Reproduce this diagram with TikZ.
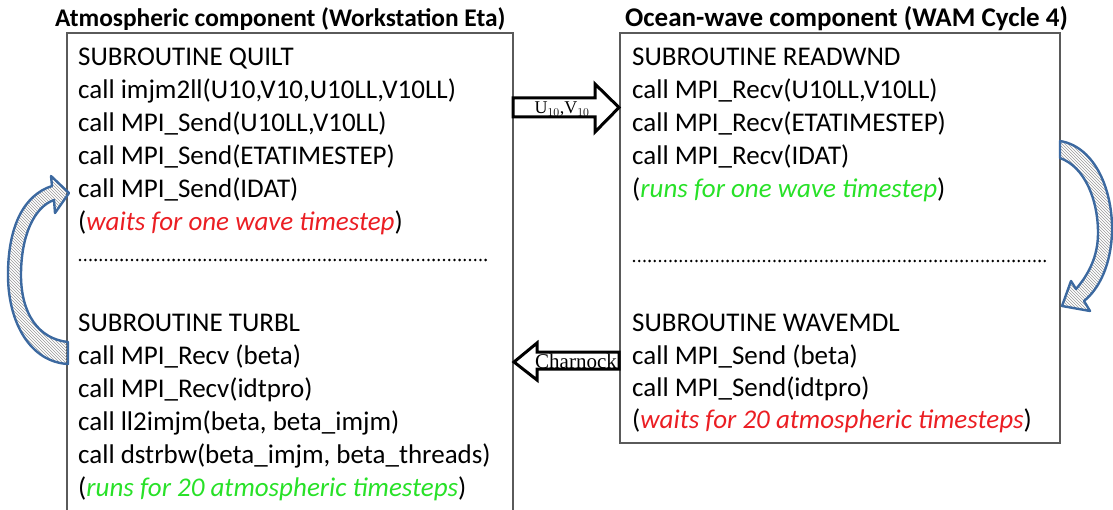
\documentclass[tikz,border=0pt]{standalone}
\usepackage{fontspec}
\setmainfont{Carlito}
\newfontfamily\tms{Liberation Serif}
\usetikzlibrary{patterns}
\definecolor{boxgray}{RGB}{90,90,90}
\definecolor{txtred}{RGB}{235,30,35}
\definecolor{txtgreen}{RGB}{40,225,40}
\definecolor{arcblue}{RGB}{60,105,160}
\tikzset{
  line/.style={anchor=base west, inner sep=0pt, font=\fontsize{27}{27}\selectfont},
  ttl/.style={anchor=base west, inner sep=0pt, font=\fontsize{25.4}{26}\selectfont\bfseries},
  frame/.style={draw=boxgray, line width=1.3pt},
  blockarrow/.style={draw=black, line width=3pt, fill=white, line join=miter},
  curvearrow/.style={draw=arcblue, line width=2.4pt, pattern=north west lines, pattern color=gray!80, line join=round},
  dots/.style={line width=2.8pt, dash pattern=on 0pt off 5.2pt, line cap=round},
}
\begin{document}
\begin{tikzpicture}[x=1pt,y=-1pt]
\useasboundingbox (0,0) rectangle (1113,510);
% frames
\draw[frame] (67,520) -- (67,33) -- (513,33) -- (513,520);
\draw[frame] (620,33) rectangle (1060,443);
% titles
\node[ttl] (t1) at (55,27) {Atmospheric component (Workstation Eta)};
\node[ttl, font=\fontsize{27}{27}\selectfont\bfseries] (t2) at (625,27) {Ocean-wave component (WAM Cycle 4)};
% left box text
\node[line] (l1) at (78,66) {SUBROUTINE QUILT};
\node[line] (l2) at (78,99) {call imjm2ll(U10,V10,U10LL,V10LL)};
\node[line] (l3) at (78,132) {call MPI\_Send(U10LL,V10LL)};
\node[line] (l4) at (78,165) {call MPI\_Send(ETATIMESTEP)};
\node[line] (l5) at (78,198) {call MPI\_Send(IDAT)};
\node[line] (l6) at (78,231) {(\textcolor{txtred}{\itshape waits for one wave timestep})};
\draw[dots] (80,260) -- (488,260);
\node[line] (l7) at (78,331) {SUBROUTINE TURBL};
\node[line] (l8) at (78,364) {call MPI\_Recv (beta)};
\node[line] (l9) at (78,397) {call MPI\_Recv(idtpro)};
\node[line] (l10) at (78,430) {call ll2imjm(beta, beta\_imjm)};
\node[line] (l11) at (78,463) {call dstrbw(beta\_imjm, beta\_threads)};
\node[line] (l12) at (78,496) {(\textcolor{txtgreen}{\itshape runs for 20 atmospheric timesteps})};
% right box text
\node[line] (r1) at (632,66) {SUBROUTINE READWND};
\node[line] (r2) at (632,99) {call MPI\_Recv(U10LL,V10LL)};
\node[line] (r3) at (632,132) {call MPI\_Recv(ETATIMESTEP)};
\node[line] (r4) at (632,165) {call MPI\_Recv(IDAT)};
\node[line] (r5) at (632,198) {(\textcolor{txtgreen}{\itshape runs for one wave timestep})};
\draw[dots] (634,261) -- (1045,261);
\node[line] (r6) at (632,331) {SUBROUTINE WAVEMDL};
\node[line] (r7) at (632,364) {call MPI\_Send (beta)};
\node[line] (r8) at (632,396) {call MPI\_Send(idtpro)};
\node[line] (r9) at (632,428) {(\textcolor{txtred}{\itshape waits for 20 atmospheric timesteps})};
% block arrows
\draw[blockarrow] (513,98) -- (595,98) -- (595,84) -- (619,107.5) -- (595,132) -- (595,117) -- (513,117) -- cycle;
\node[inner sep=0pt, font=\tms\fontsize{18}{18}\selectfont] (uv) at (562,109) {U$_{10}$,V$_{10}$};
\draw[blockarrow] (619,352) -- (537,352) -- (537,343) -- (514,362) -- (537,380) -- (537,369) -- (619,369) -- cycle;
\node[inner sep=0pt, font=\tms\fontsize{21}{21}\selectfont] (ch) at (576,361) {Charnock};
% curved arrows
\draw[curvearrow] (68,364) .. controls (30,362) and (8,322) .. (8,275)
  .. controls (8,226) and (24,195) .. (52,186) -- (51,176) -- (69,193) -- (55,213) -- (54,200)
  .. controls (34,207) and (21,236) .. (21,275)
  .. controls (21,313) and (38,339) .. (68,342) -- cycle;
\draw[curvearrow] (1060,141) .. controls (1096,147) and (1113,192) .. (1112,232)
  .. controls (1111,265) and (1099,289) .. (1084,301) -- (1090,311) -- (1062,306) -- (1071,281) -- (1076,289)
  .. controls (1089,274) and (1098,256) .. (1098,233)
  .. controls (1098,200) and (1085,167) .. (1060,158) -- cycle;
\end{tikzpicture}
\end{document}
